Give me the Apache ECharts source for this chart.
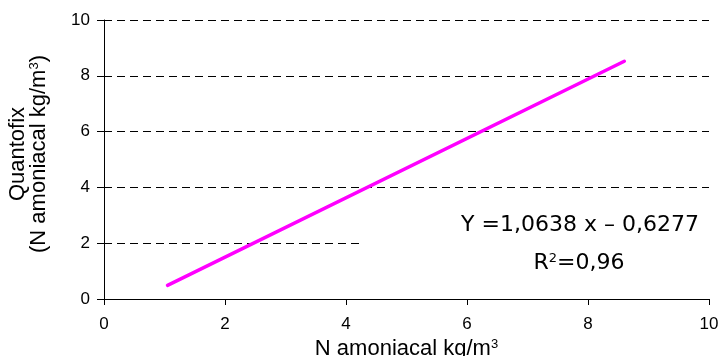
<!DOCTYPE html>
<html><head><meta charset="utf-8">
<script src="https://cdn.jsdelivr.net/npm/echarts@6/dist/echarts.min.js"></script>
<style>html,body{margin:0;padding:0;background:#fff}#c{width:721px;height:356px}</style>
</head><body><div id="c"></div>
<script>
const xStart = [1.05, 0.49];
const xEnd = [8.6, 8.52];
const lineData = [xStart, xEnd];
const xTicks = [0, 2, 4, 6, 8, 10];
const yTicks = [0, 2, 4, 6, 8, 10];
const equation = 'Y =1,0638 x – 0,6277';
const r2Label = '0,96';
const xTitle = 'N amoniacal kg/m';
const yTitle1 = 'Quantofix';
const yTitle2 = '(N amoniacal kg/m';

const chart = echarts.init(document.getElementById('c'));
const F = '"Liberation Sans", Arial, sans-serif';
const V = '"DejaVu Sans", Verdana, sans-serif';
chart.setOption({
  animation: false,
  backgroundColor: '#fff',
  grid: {left: 104, right: 12, top: 20, bottom: 57, containLabel: false, outerBoundsMode: 'none'},
  xAxis: {
    type: 'value', min: 0, max: 10, interval: 2,
    axisLine: {show: true, lineStyle: {color: '#000', width: 1}},
    axisTick: {show: true, length: 6, lineStyle: {color: '#000'}},
    axisLabel: {color: '#000', fontFamily: F, fontSize: 17, margin: 17},
    splitLine: {show: false},
    name: '{a|' + xTitle + '}{s|3}',
    nameLocation: 'middle', nameGap: 35,
    nameTextStyle: {rich: {a: {fontFamily: F, fontSize: 22, color: '#000'}, s: {fontFamily: F, fontSize: 13, color: '#000', verticalAlign: 'top', padding: [0,0,9,0]}}}
  },
  yAxis: {
    type: 'value', min: 0, max: 10, interval: 2,
    axisLine: {show: true, lineStyle: {color: '#000', width: 1}},
    axisTick: {show: true, length: 7, lineStyle: {color: '#000'}},
    axisLabel: {color: '#000', fontFamily: F, fontSize: 17, margin: 14},
    splitLine: {show: true, lineStyle: {color: '#000', type: [8, 5], width: 1}}
  },
  graphic: [
    {type: 'text', z: 51, x: 18, y: 154, rotation: Math.PI / 2,
     style: {text: yTitle1, font: '22px ' + F, fill: '#000', align: 'center', verticalAlign: 'middle'}},
    {type: 'text', z: 51, x: 39, y: 154, rotation: Math.PI / 2,
     style: {text: '{a|' + yTitle2 + '}{s|3}{a|)}', align: 'center', verticalAlign: 'middle',
       rich: {a: {fontFamily: F, fontSize: 22, fill: '#000'}, s: {fontFamily: F, fontSize: 13, fill: '#000', verticalAlign: 'top', padding: [0,0,9,0]}}}},
    {type: 'rect', z: 50, shape: {x: 360, y: 200, width: 352, height: 90}, style: {fill: '#fff'}},
    {type: 'text', z: 51, x: 580, y: 225,
     style: {text: equation, font: '22px ' + V, fill: '#000', align: 'center', verticalAlign: 'middle'}},
    {type: 'text', z: 51, x: 579, y: 263,
     style: {text: '{a|R}{s|2}{a|=' + r2Label + '}', align: 'center', verticalAlign: 'middle',
       rich: {a: {fontFamily: V, fontSize: 22, fill: '#000'}, s: {fontFamily: V, fontSize: 13, fill: '#000', verticalAlign: 'top', padding: [0,0,9,0]}}}}
  ],
  series: [{
    type: 'line', data: lineData, symbol: 'none', z: 60,
    lineStyle: {color: '#FF00FF', width: 3.5, cap: 'round'}
  }]
});
</script></body></html>
